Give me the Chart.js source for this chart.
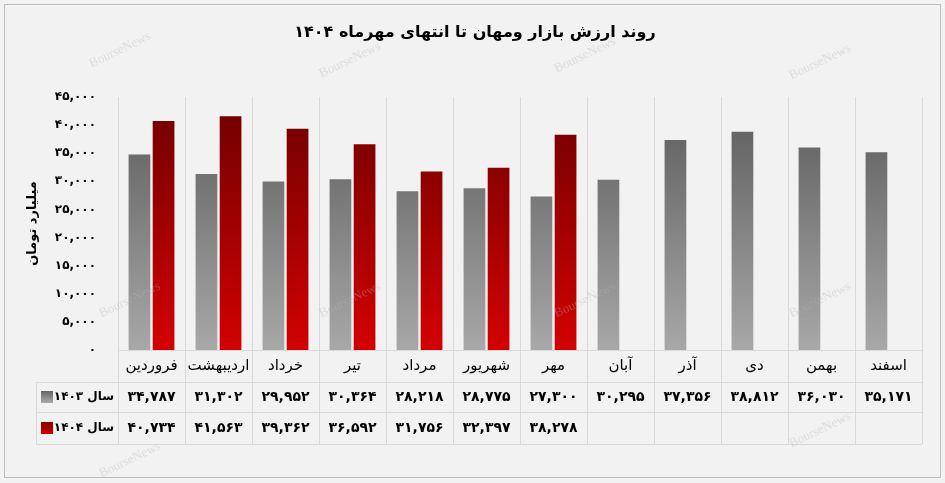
<!DOCTYPE html>
<html><head><meta charset="utf-8">
<script src="https://cdn.jsdelivr.net/npm/chart.js@4"></script>
<style>html,body{margin:0;padding:0;background:#fff}#w{width:945px;height:483px}</style>
</head><body><div id="w"><canvas id="c" width="945" height="483"></canvas></div>
<script>
const categories=['فروردین','اردیبهشت','خرداد','تیر','مرداد','شهریور','مهر','آبان','آذر','دی','بهمن','اسفند'];
const values1403=[34787,31302,29952,30364,28218,28775,27300,30295,37356,38812,36030,35171];
const values1404=[40734,41563,39362,36592,31756,32397,38278,null,null,null,null,null];
const seriesNames=['سال ۱۴۰۳','سال ۱۴۰۴'];
const yTicks=[0,5000,10000,15000,20000,25000,30000,35000,40000,45000];
const titleText='روند ارزش بازار ومهان تا انتهای مهرماه ۱۴۰۴';
const yTitle='میلیارد تومان';
const FONT='"DejaVu Sans"';
function fa(n){return n.toLocaleString('en-US').replace(/\d/g,d=>'۰۱۲۳۴۵۶۷۸۹'[d]);}
function grad(ctx,top,bot){const a=ctx.chart.chartArea;if(!a)return top;const g=ctx.chart.ctx.createLinearGradient(0,a.top,0,a.bottom);g.addColorStop(0,top);g.addColorStop(1,bot);return g;}
const deco={id:'deco',
beforeDraw(ch){const c=ch.ctx;c.save();c.fillStyle='#f2f2f2';c.fillRect(0,0,945,483);c.strokeStyle='#bdbdbd';c.lineWidth=1;c.strokeRect(4.5,4.5,936,473);
c.fillStyle='#000';c.font='bold 16px '+FONT;c.textAlign='center';c.textBaseline='middle';c.fillText(titleText,475,33);
c.save();c.translate(33,(ch.chartArea.top+ch.chartArea.bottom)/2);c.rotate(-Math.PI/2);c.font='bold 13px '+FONT;c.fillText(yTitle,0,0);c.restore();
c.restore();},
afterDraw(ch){const c=ch.ctx,x=ch.scales.x,a=ch.chartArea;const w=(a.right-a.left)/categories.length;
c.save();c.strokeStyle='#d9d9d9';c.lineWidth=1;
const r0=a.bottom,r1=382,r2=412,r3=444,L=36;
for(let i=0;i<=categories.length;i++){const xx=Math.round(a.left+i*w)+0.5;c.beginPath();c.moveTo(xx,a.top);c.lineTo(xx,r3);c.stroke();}
c.beginPath();c.moveTo(a.left,r0+0.5);c.lineTo(a.right,r0+0.5);
[r1,r2,r3].forEach(r=>{c.moveTo(L,r+0.5);c.lineTo(a.right,r+0.5);});
c.moveTo(L+0.5,r1);c.lineTo(L+0.5,r3);c.stroke();
c.fillStyle='#000';c.textAlign='center';c.textBaseline='middle';
categories.forEach((t,i)=>{const cx=x.getPixelForValue(i);c.font='15px '+FONT;c.fillText(t,cx,(r0+r1)/2);
c.font='bold 14px '+FONT;c.fillText(fa(values1403[i]),cx,(r1+r2)/2);if(values1404[i]!=null)c.fillText(fa(values1404[i]),cx,(r2+r3)/2);});
c.font='bold 12px '+FONT;c.textAlign='right';
[[seriesNames[0],'#666','#aaa',(r1+r2)/2],[seriesNames[1],'#8a0000','#d00000',(r2+r3)/2]].forEach(([t,ct,cb,cy])=>{
const g=c.createLinearGradient(0,cy-6,0,cy+6);g.addColorStop(0,ct);g.addColorStop(1,cb);c.fillStyle=g;c.fillRect(41,cy-6,12,12);c.fillStyle='#000';c.fillText(t,114,cy);});
c.fillStyle='rgba(180,180,180,0.35)';c.font='13px "Liberation Serif"';c.textAlign='center';
[[120,50],[350,60],[585,55],[820,62],[130,300],[350,300],[585,300],[820,300],[130,460],[820,430]].forEach(([px,py])=>{c.save();c.translate(px,py);c.rotate(-0.45);c.fillText('BourseNews',0,0);c.restore();});
c.restore();}};
new Chart(document.getElementById('c'),{type:'bar',
data:{labels:categories,datasets:[
{label:seriesNames[0],data:values1403,backgroundColor:ctx=>grad(ctx,'#5a5a5a','#a8a8a8')},
{label:seriesNames[1],data:values1404,backgroundColor:ctx=>grad(ctx,'#6e0000','#d40000')}]},
options:{responsive:false,animation:false,devicePixelRatio:1,
layout:{padding:{top:97,bottom:133,right:23,left:0}},
datasets:{bar:{categoryPercentage:0.72,barPercentage:0.9}},
plugins:{legend:{display:false},tooltip:{enabled:false}},
scales:{x:{display:false},
y:{min:0,max:45000,afterFit(s){s.width=118;},afterBuildTicks(s){s.ticks=yTicks.map(v=>({value:v}));},
grid:{display:false},border:{display:false},
ticks:{padding:14,color:'#000',font:{family:FONT,size:12,weight:'bold'},callback:v=>fa(v)}}}},
plugins:[deco]});
</script></body></html>
